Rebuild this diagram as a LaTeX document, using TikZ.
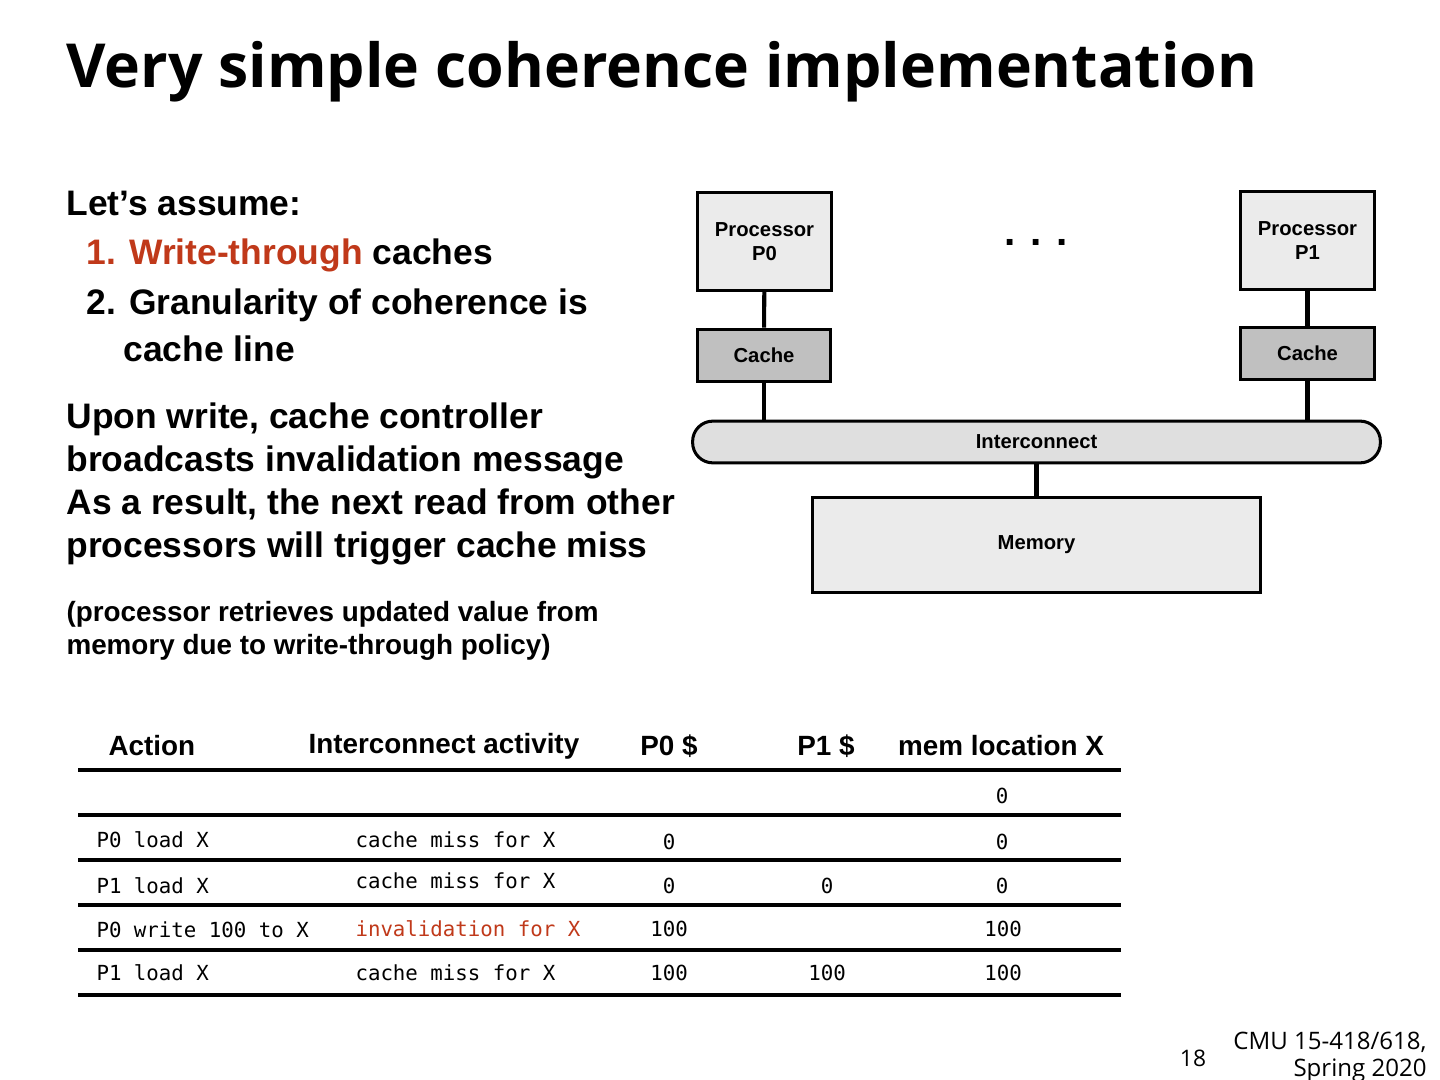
\documentclass[tikz,border=0pt]{standalone}
\usepackage{fontspec}
\setmainfont{Liberation Sans}
\newfontfamily\titlefont{Open Sans}
\setmonofont{DejaVu Sans Mono}
\definecolor{hired}{RGB}{192,57,26}
\definecolor{boxgray}{RGB}{235,235,235}
\definecolor{cachegray}{RGB}{192,192,192}
\begin{document}
\begin{tikzpicture}
 [x=0.013889cm,y=-0.013889cm,
   every node/.style={inner sep=0pt},
   hw/.style={draw,line width=1.2pt,fill=boxgray,font=\fontsize{8}{9.5}\selectfont\bfseries,align=center},
   body/.style={anchor=west,font=\fontsize{14}{16}\selectfont\bfseries},
   head/.style={font=\fontsize{11}{13}\selectfont\bfseries},
   cell/.style={font=\fontsize{8.2}{10}\selectfont\ttfamily},
   wire/.style={line width=1.6pt},
   rule/.style={line width=1.2pt}]
  \useasboundingbox (0,0) rectangle (1440,1080);
  \node[anchor=west,font=\titlefont\fontsize{24}{28}\selectfont\bfseries] (title) at (66,72) {Very simple coherence implementation};
  % left text
  \node[body] (assume) at (66,203) {Let’s assume:};
  \node[body] (pt1) at (86,255) {\textcolor{hired}{1. Write-through} caches};
  \node[body] (pt2) at (86,305) {2. Granularity of coherence is};
  \node[body] (pt2b) at (123,349) {cache line};
  \node[body,align=left,font=\fontsize{14}{16.9}\selectfont\bfseries] (upon) at (66,484)
    {Upon write, cache controller\\broadcasts invalidation message\\As a result, the next read from other\\processors will trigger cache miss};
  \node[body,align=left,font=\fontsize{11}{13}\selectfont\bfseries] (note) at (66,631)
    {(processor retrieves updated value from\\memory due to write-through policy)};
  % hardware diagram
  \node[hw,text width=1.85cm,minimum height=1.35cm] (p0) at (764.5,241.5) {Processor\\P0};
  \node[hw,text width=1.85cm,minimum height=1.35cm] (p1) at (1307.5,240.5) {Processor\\P1};
  \node[hw,fill=cachegray,text width=1.85cm,minimum height=0.73cm] (c0) at (764,355.5) {Cache};
  \node[hw,fill=cachegray,text width=1.85cm,minimum height=0.73cm] (c1) at (1307.5,353.5) {Cache};
  \node[hw,fill=boxgray!95!black,rounded corners=8pt,minimum width=9.55cm,minimum height=0.58cm] (ic) at (1036.5,442) {Interconnect};
  \node[hw,minimum width=6.23cm,minimum height=1.33cm] (mem) at (1036.5,545) {Memory};
  \node[font=\fontsize{16}{16}\selectfont\bfseries] (dots) at (1036,242) {. . .};
  \draw[wire] (p0) -- (c0);
  \draw[wire] (p1) -- (c1);
  \draw[wire] (c0) -- (c0 |- ic.north);
  \draw[wire] (c1) -- (c1 |- ic.north);
  \draw[wire] (ic) -- (mem);
  % table
  \node[head,anchor=west] (hact) at (108,746) {Action};
  \node[head,anchor=west] (hint) at (308,746) {Interconnect activity};
  \node[head] (hp0) at (669,746) {P0 \$};
  \node[head] (hp1) at (826,746) {P1 \$};
  \node[head] (hmem) at (1001,746) {mem location X};
  \foreach \y in {770,815,860,905,950,995}
    \draw[rule] (78,\y) -- (1121,\y);
  \node[cell] (m0) at (1002,796) {0};
  \node[cell,anchor=west] (a1) at (96,840) {P0 load X};
  \node[cell,anchor=west] (i1) at (355,840) {cache miss for X};
  \node[cell] (q1) at (669,842) {0};
  \node[cell] (m1) at (1002,842) {0};
  \node[cell,anchor=west] (a2) at (96,886) {P1 load X};
  \node[cell,anchor=west] (i2) at (355,881) {cache miss for X};
  \node[cell] (q2) at (669,886) {0};
  \node[cell] (r2) at (827,886) {0};
  \node[cell] (m2) at (1002,886) {0};
  \node[cell,anchor=west] (a3) at (96,930) {P0 write 100 to X};
  \node[cell,anchor=west,text=hired] (i3) at (355,929) {invalidation for X};
  \node[cell] (q3) at (669,929) {100};
  \node[cell] (m3) at (1003,929) {100};
  \node[cell,anchor=west] (a4) at (96,973) {P1 load X};
  \node[cell,anchor=west] (i4) at (355,973) {cache miss for X};
  \node[cell] (q4) at (669,973) {100};
  \node[cell] (r4) at (827,973) {100};
  \node[cell] (m4) at (1003,973) {100};
  % footer
  \node[font=\titlefont\fontsize{9}{10}\selectfont] (pg) at (1193,1058) {18};
  \node[anchor=north east,align=right,font=\titlefont\fontsize{9.5}{10.5}\selectfont] (course) at (1427,1032) {CMU 15-418/618,\\Spring 2020};
\end{tikzpicture}
\end{document}
